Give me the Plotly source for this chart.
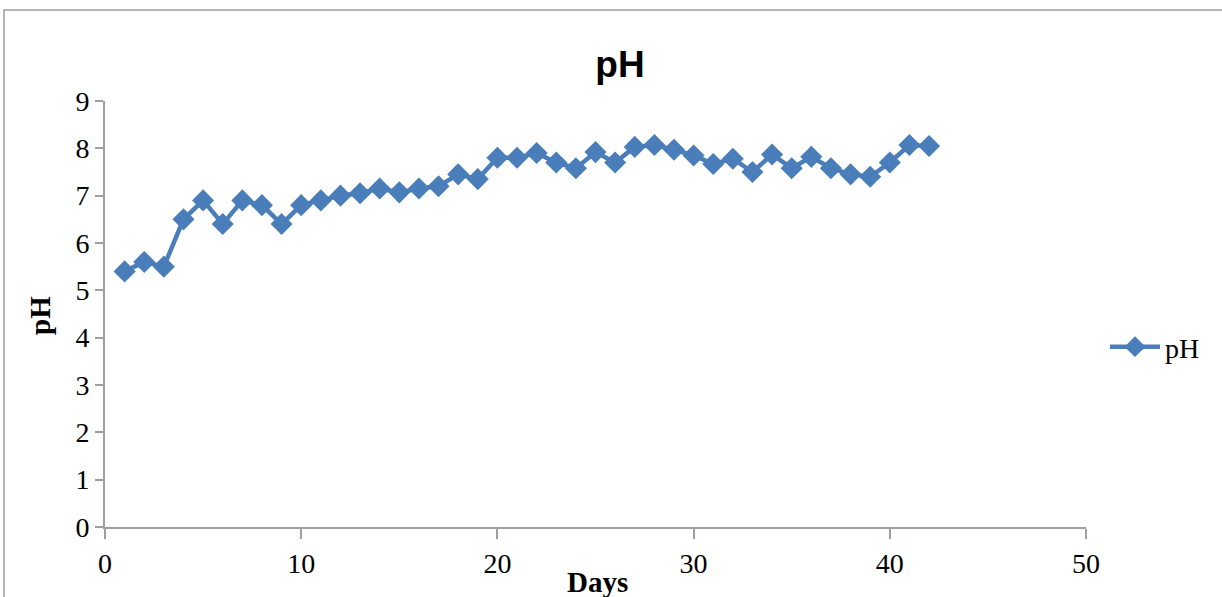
import plotly.graph_objects as go

days = list(range(1, 43))
ph = [5.4, 5.6, 5.5, 6.5, 6.9, 6.4, 6.9, 6.8, 6.4, 6.8,
      6.9, 7.0, 7.05, 7.15, 7.07, 7.15, 7.2, 7.45, 7.35, 7.8,
      7.8, 7.9, 7.7, 7.58, 7.92, 7.7, 8.03, 8.07, 7.97, 7.85,
      7.67, 7.78, 7.5, 7.87, 7.58, 7.82, 7.58, 7.45, 7.4, 7.7,
      8.07, 8.05]

W, H = 1222, 597
L, R, T, B = 105, 136, 101, 70
pw, ph_ = W - L - R, H - T - B

serif = "Liberation Serif, Times New Roman, serif"

fig = go.Figure()
fig.add_trace(go.Scatter(
    x=days, y=ph, mode="lines+markers", name="pH",
    line=dict(color="#4a7ebb", width=4.5),
    marker=dict(symbol="diamond", size=17, color="#4a7ebb"),
))

axis_font = dict(family=serif, size=28, color="black")
fig.update_layout(
    width=W, height=H,
    margin=dict(l=L, r=R, t=T, b=B),
    paper_bgcolor="white", plot_bgcolor="white",
    title=dict(text="<b>pH</b>", x=620 / W, xanchor="center", y=1 - 64 / H, yanchor="middle",
               font=dict(family="Liberation Sans, Arial, sans-serif", size=37, color="black")),
    xaxis=dict(range=[0, 50], dtick=10, tick0=0, showgrid=False, zeroline=False,
               showline=True, linecolor="#a0a0a0", linewidth=2,
               ticks="outside", ticklen=10, tickcolor="#a0a0a0", tickwidth=1.5,
               tickfont=axis_font),
    yaxis=dict(range=[0, 9], dtick=1, showgrid=False, zeroline=False,
               showline=True, linecolor="#a0a0a0", linewidth=2,
               ticks="outside", ticklen=8, tickcolor="#a0a0a0", tickwidth=1.5,
               tickfont=axis_font),
    showlegend=True,
    legend=dict(x=(1105 - L) / pw, y=(527 - 347) / ph_, xanchor="left", yanchor="middle",
                font=dict(family=serif, size=28, color="black"),
                bgcolor="rgba(0,0,0,0)", itemwidth=50),
    annotations=[
        dict(text="<b>Days</b>", xref="paper", yref="paper",
             x=(597 - L) / pw, y=-(582 - 527) / ph_, xanchor="center", yanchor="middle",
             showarrow=False, font=dict(family=serif, size=29, color="black")),
        dict(text="<b>pH</b>", xref="paper", yref="paper", textangle=-90,
             x=-(105 - 40) / pw, y=(527 - 316) / ph_, xanchor="center", yanchor="middle",
             showarrow=False, font=dict(family=serif, size=29, color="black")),
    ],
    shapes=[dict(type="rect", xref="paper", yref="paper",
                 x0=(4 - L) / pw, x1=(1230 - L) / pw,
                 y0=-(B + 20) / ph_, y1=1 + (T - 10) / ph_,
                 line=dict(color="#a0a0a0", width=1.5), fillcolor="rgba(0,0,0,0)", layer="below")],
)

fig.write_html("out.html")
